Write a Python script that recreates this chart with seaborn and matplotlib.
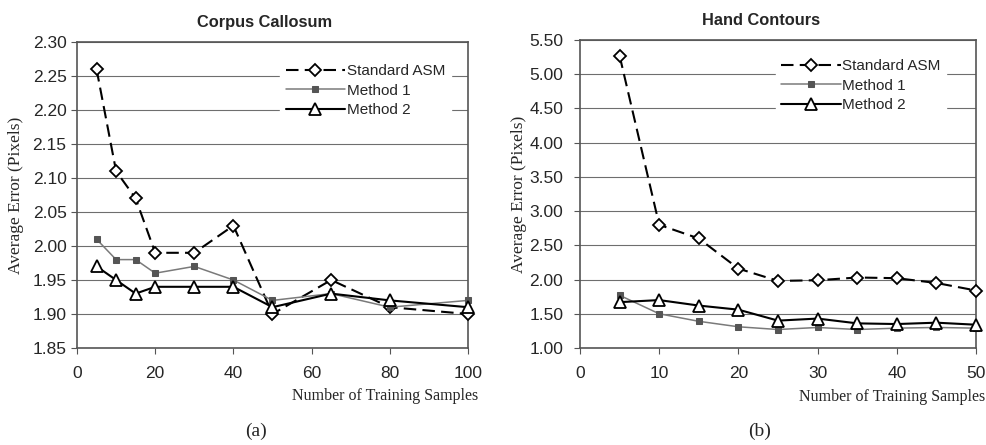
import pandas as pd
import matplotlib.pyplot as plt
import seaborn as sns
import matplotlib

matplotlib.use("Agg")

# ---- data ----
cc_samples = [5, 10, 15, 20, 30, 40, 50, 65, 80, 100]
cc_standard = [2.26, 2.11, 2.07, 1.99, 1.99, 2.03, 1.90, 1.95, 1.91, 1.90]
cc_method1 = [2.01, 1.98, 1.98, 1.96, 1.97, 1.95, 1.92, 1.93, 1.91, 1.92]
cc_method2 = [1.97, 1.95, 1.93, 1.94, 1.94, 1.94, 1.91, 1.93, 1.92, 1.91]

hand_samples = [5, 10, 15, 20, 25, 30, 35, 40, 45, 50]
hand_standard = [5.27, 2.80, 2.60, 2.16, 1.98, 1.99, 2.03, 2.02, 1.95, 1.84]
hand_method1 = [1.77, 1.50, 1.39, 1.31, 1.27, 1.30, 1.27, 1.29, 1.30, 1.29]
hand_method2 = [1.67, 1.70, 1.62, 1.56, 1.40, 1.43, 1.36, 1.35, 1.37, 1.34]

series_names = ["Standard ASM", "Method 1", "Method 2"]

sns.set_style("white")
plt.rcParams["font.family"] = ["Liberation Sans", "DejaVu Sans"]
SERIF = ["Liberation Serif", "DejaVu Serif"]

fig = plt.figure(figsize=(9.87, 4.45), dpi=100)
ax_left = fig.add_axes([77 / 987, 1 - 348 / 445, 391 / 987, 306 / 445])
ax_right = fig.add_axes([580 / 987, 1 - 348 / 445, 396 / 987, 308 / 445])

styles = {
    "Standard ASM": dict(color="black", linestyle=(0, (6, 3)), linewidth=1.5,
                         marker="D", markersize=6, markerfacecolor="white",
                         markeredgecolor="black", markeredgewidth=1.3),
    "Method 1": dict(color="#7a7a7a", linestyle="-", linewidth=1.1,
                     marker="s", markersize=5, markerfacecolor="#555555",
                     markeredgecolor="#555555"),
    "Method 2": dict(color="black", linestyle="-", linewidth=1.5,
                     marker="^", markersize=8, markerfacecolor="white",
                     markeredgecolor="black", markeredgewidth=1.3),
}


def draw_panel(ax, x, ys, title, title_x, ylim, yticks, xticks, xmax,
               ypad, ylabel_x, xlabel_x, leg_anchor):
    df = pd.DataFrame({"samples": x})
    for name, y in zip(series_names, ys):
        df[name] = y
    long = df.melt(id_vars="samples", var_name="series", value_name="error")
    for name in series_names:
        sub = long[long["series"] == name]
        sns.lineplot(data=sub, x="samples", y="error", ax=ax, label=name,
                     clip_on=False, zorder=3, **styles[name])

    ax.set_xlim(0, xmax)
    ax.set_ylim(*ylim)
    ax.set_yticks(yticks)
    ax.set_yticklabels(["{:.2f}".format(v) for v in yticks], fontsize=12.5)
    ax.set_xticks(xticks)
    ax.set_xticklabels([str(v) for v in xticks], fontsize=12.5)
    ax.yaxis.grid(True, color="#6e6e6e", linewidth=0.8)
    ax.set_axisbelow(True)
    for sp in ax.spines.values():
        sp.set_color("#555555")
        sp.set_linewidth(1.2)
    ax.tick_params(axis="both", direction="out", length=4, color="#555555",
                   left=True, bottom=True)
    ax.tick_params(axis="y", pad=ypad)
    ax.tick_params(axis="x", pad=9)
    ax.set_title(title, fontsize=11.8, fontweight="bold", pad=11, x=title_x)
    ax.set_ylabel("Average Error (Pixels)", fontsize=12.5, family=SERIF)
    ax.yaxis.set_label_coords(ylabel_x, 0.5)
    ax.set_xlabel("Number of Training Samples", fontsize=11.5, family=SERIF,
                  loc="right")
    ax.xaxis.set_label_coords(xlabel_x, -0.132)
    leg = ax.legend(loc="upper left", bbox_to_anchor=leg_anchor,
                    frameon=True, fontsize=11, handlelength=3.9,
                    handletextpad=0.1, labelspacing=0.35, borderpad=0.35,
                    borderaxespad=0)
    leg.get_frame().set_facecolor("white")
    leg.get_frame().set_edgecolor("white")
    leg.get_frame().set_alpha(1)


draw_panel(ax_left, cc_samples, [cc_standard, cc_method1, cc_method2],
           "Corpus Callosum", 0.48, (1.85, 2.30),
           [1.85, 1.90, 1.95, 2.00, 2.05, 2.10, 2.15, 2.20, 2.25, 2.30],
           [0, 20, 40, 60, 80, 100], 100,
           3.5, -0.136, 1.026, (0.52, 0.945))
draw_panel(ax_right, hand_samples, [hand_standard, hand_method1, hand_method2],
           "Hand Contours", 0.457, (1.0, 5.5),
           [1.00, 1.50, 2.00, 2.50, 3.00, 3.50, 4.00, 4.50, 5.00, 5.50],
           [0, 10, 20, 30, 40, 50], 50,
           8, -0.134, 1.023, (0.495, 0.955))

fig.text(256 / 987, 1 - 431 / 445, "(a)", ha="center", va="center",
         fontsize=14, family=SERIF)
fig.text(760 / 987, 1 - 431 / 445, "(b)", ha="center", va="center",
         fontsize=14, family=SERIF)

plt.savefig("out.png", dpi=100)
plt.close()
